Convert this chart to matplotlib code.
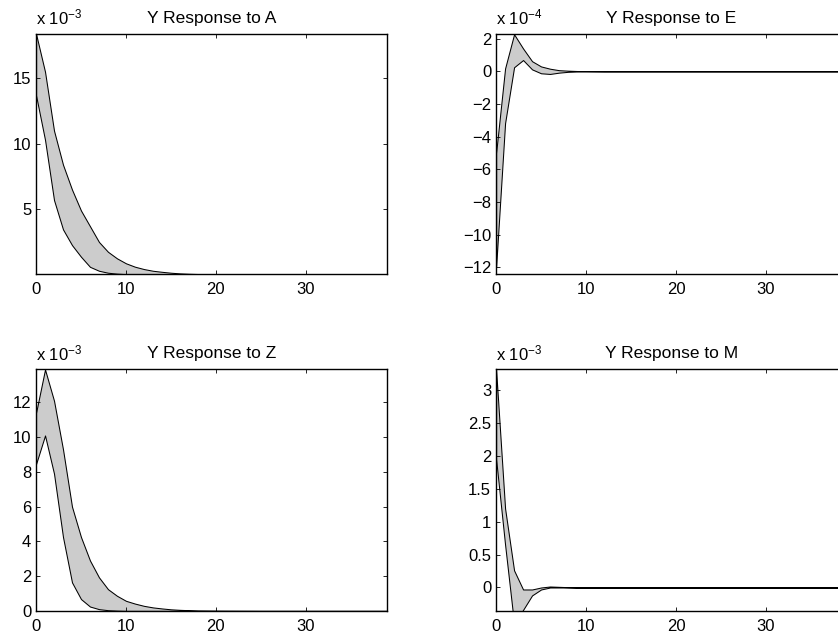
import numpy as np
import matplotlib
matplotlib.use('Agg')
import matplotlib.pyplot as plt
from matplotlib.ticker import FuncFormatter

plt.rcParams['font.family'] = ['Liberation Sans', 'DejaVu Sans']
plt.rcParams['font.size'] = 12.5
plt.rcParams['mathtext.default'] = 'regular'

# horizon 0..39
periods = list(range(40))

# response bands (values in units of the axis multiplier)
a_upper = [18.4, 15.5, 11.0, 8.4, 6.5, 4.9, 3.7, 2.5, 1.75, 1.25,
           0.87, 0.61, 0.43, 0.30, 0.22, 0.15, 0.10, 0.07, 0.05, 0.03,
           0.02, 0.015, 0.01, 0.007, 0.005, 0.003, 0.002, 0.0, 0.0, 0.0,
           0.0, 0.0, 0.0, 0.0, 0.0, 0.0, 0.0, 0.0, 0.0, 0.0]
a_lower = [13.7, 10.3, 5.7, 3.46, 2.26, 1.37, 0.6, 0.3, 0.15, 0.08,
           0.04, 0.02, 0.01, 0.0, 0.0, 0.0, 0.0, 0.0, 0.0, 0.0,
           0.0, 0.0, 0.0, 0.0, 0.0, 0.0, 0.0, 0.0, 0.0, 0.0,
           0.0, 0.0, 0.0, 0.0, 0.0, 0.0, 0.0, 0.0, 0.0, 0.0]

e_upper = [-5.0, 0.18, 2.27, 1.4, 0.62, 0.3, 0.16, 0.07, 0.04, 0.02,
           0.01, 0.005, 0.0, 0.0, 0.0, 0.0, 0.0, 0.0, 0.0, 0.0,
           0.0, 0.0, 0.0, 0.0, 0.0, 0.0, 0.0, 0.0, 0.0, 0.0,
           0.0, 0.0, 0.0, 0.0, 0.0, 0.0, 0.0, 0.0, 0.0, 0.0]
e_lower = [-12.0, -3.17, 0.25, 0.69, 0.12, -0.12, -0.16, -0.08, -0.03, -0.01,
           0.0, 0.0, 0.0, 0.0, 0.0, 0.0, 0.0, 0.0, 0.0, 0.0,
           0.0, 0.0, 0.0, 0.0, 0.0, 0.0, 0.0, 0.0, 0.0, 0.0,
           0.0, 0.0, 0.0, 0.0, 0.0, 0.0, 0.0, 0.0, 0.0, 0.0]

z_upper = [11.4, 13.9, 12.1, 9.3, 6.0, 4.25, 2.9, 1.93, 1.25, 0.87,
           0.58, 0.42, 0.29, 0.2, 0.14, 0.09, 0.06, 0.04, 0.02, 0.015,
           0.01, 0.007, 0.005, 0.003, 0.002, 0.0, 0.0, 0.0, 0.0, 0.0,
           0.0, 0.0, 0.0, 0.0, 0.0, 0.0, 0.0, 0.0, 0.0, 0.0]
z_lower = [8.45, 10.1, 7.9, 4.25, 1.64, 0.68, 0.25, 0.1, 0.04, 0.015,
           0.0, 0.0, 0.0, 0.0, 0.0, 0.0, 0.0, 0.0, 0.0, 0.0,
           0.0, 0.0, 0.0, 0.0, 0.0, 0.0, 0.0, 0.0, 0.0, 0.0,
           0.0, 0.0, 0.0, 0.0, 0.0, 0.0, 0.0, 0.0, 0.0, 0.0]

m_upper = [3.31, 1.2, 0.26, -0.03, -0.03, 0.0, 0.015, 0.01, 0.005, 0.0,
           0.0, 0.0, 0.0, 0.0, 0.0, 0.0, 0.0, 0.0, 0.0, 0.0,
           0.0, 0.0, 0.0, 0.0, 0.0, 0.0, 0.0, 0.0, 0.0, 0.0,
           0.0, 0.0, 0.0, 0.0, 0.0, 0.0, 0.0, 0.0, 0.0, 0.0]
m_lower = [1.95, 0.65, -0.55, -0.34, -0.12, -0.03, 0.0, 0.0, 0.0, 0.0,
           0.0, 0.0, 0.0, 0.0, 0.0, 0.0, 0.0, 0.0, 0.0, 0.0,
           0.0, 0.0, 0.0, 0.0, 0.0, 0.0, 0.0, 0.0, 0.0, 0.0,
           0.0, 0.0, 0.0, 0.0, 0.0, 0.0, 0.0, 0.0, 0.0, 0.0]

titles = ['Y Response to A', 'Y Response to E', 'Y Response to Z', 'Y Response to M']
exponents = ['-3', '-4', '-3', '-3']
ylims = [(0.06, 18.4), (-12.4, 2.3), (0.0, 13.9), (-0.355, 3.31)]
yticks = [[5, 10, 15], list(range(-12, 3, 2)), list(range(0, 13, 2)),
          [0, 0.5, 1, 1.5, 2, 2.5, 3]]
bands = [(a_lower, a_upper), (e_lower, e_upper), (z_lower, z_upper), (m_lower, m_upper)]

# axes boxes in figure fractions (right column runs past the figure edge)
boxes = [[0.043, 0.570, 0.4185, 0.377],
         [0.592, 0.570, 0.4185, 0.377],
         [0.043, 0.041, 0.4185, 0.379],
         [0.592, 0.041, 0.4185, 0.379]]


def tick_fmt(v, pos):
    return ('%g' % v).replace('-', '\u2212')


fig = plt.figure(figsize=(8.38, 6.37), dpi=100)

for i in range(4):
    ax = fig.add_axes(boxes[i])
    lo, hi = bands[i]
    ax.fill_between(periods, lo, hi, facecolor='#cccccc', edgecolor='black', linewidth=0.75)
    ax.set_xlim(0, 39)
    ax.set_ylim(*ylims[i])
    ax.set_xticks([0, 10, 20, 30])
    ax.set_yticks(yticks[i])
    ax.yaxis.set_major_formatter(FuncFormatter(tick_fmt))
    ax.tick_params(direction='in', length=3, width=0.6, top=True, right=True,
                   pad=3.5, labelsize=12)
    ax.tick_params(axis='x', pad=5.5)
    for sp in ax.spines.values():
        sp.set_linewidth(1.0)
    ax.set_title(titles[i], fontsize=12.5, pad=8)
    ax.text(0.0, 1.025, 'x 10$^{' + exponents[i].replace('-', '\u2212') + '}$',
            transform=ax.transAxes, ha='left', va='bottom', fontsize=12)

fig.savefig('out.png', dpi=100)
